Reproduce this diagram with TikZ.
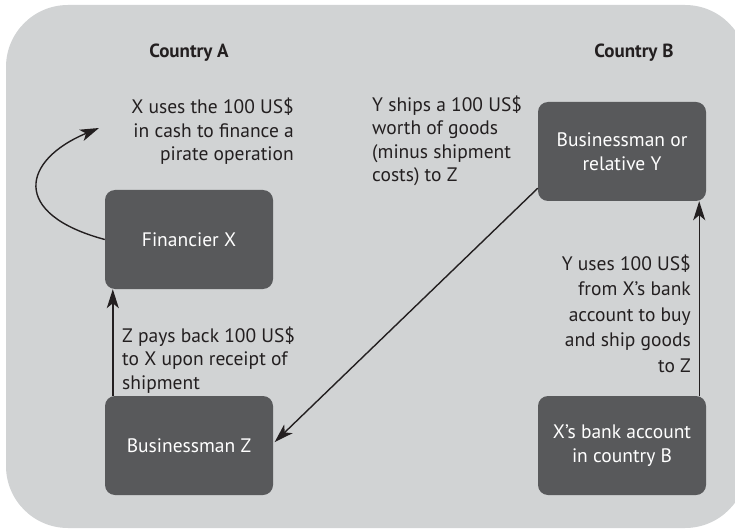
\documentclass[tikz,border=0pt]{standalone}
\usepackage{fontspec}
\setmainfont{PT Sans}
\usetikzlibrary{arrows.meta}
\definecolor{bgray}{HTML}{D1D3D4}
\definecolor{boxgray}{HTML}{58595B}
\definecolor{ink}{HTML}{231F20}
\tikzset{
  party/.style={fill=boxgray, rounded corners=10pt, minimum width=168pt, minimum height=99pt,
    inner sep=0pt, text=white, align=center, font=\fontsize{19.5}{24}\selectfont},
  lbl/.style={text=ink, inner sep=0pt, font=\fontsize{19.5}{23.5}\selectfont},
  lblwide/.style={text=ink, inner sep=0pt, font=\fontsize{19.5}{25.5}\selectfont},
  head/.style={text=ink, inner sep=0pt, font=\fontsize{19}{24}\selectfont\bfseries},
  arr/.style={draw=ink, line width=1.4pt, -{Stealth[length=19pt,width=12pt,inset=5pt]}}
}
\begin{document}
\begin{tikzpicture}[x=1pt,y=-1pt]
\useasboundingbox (0,0) rectangle (735,529);
\clip (0,0) rectangle (735,529);
\fill[bgray, rounded corners=62pt] (6,5) rectangle (747,528);

\node[head, anchor=base] (ca) at (189,58) {Country A};
\node[head, anchor=base] (cb) at (634,58) {Country B};

\node[party] (X) at (189,239.5) {Financier X};
\node[party] (Z) at (189,445.5) {Businessman Z};
\node[party] (Y) at (622,151.5) {Businessman or\\relative Y};
\node[party] (B) at (622,445.5) {X’s bank account\\in country B};

\node[lbl, anchor=base east, align=right] (t1) at (294,161) {X uses the 100 US\$\\in cash to finance a\\pirate operation};
\node[lbl, anchor=base west, align=left] (t2) at (122,389) {Z pays back 100 US\$\\to X upon receipt of\\shipment};
\node[lbl, anchor=base west, align=left] (t3) at (372,182) {Y ships a 100 US\$\\worth of goods\\(minus shipment\\costs) to Z};
\node[lblwide, anchor=base east, align=right] (t4) at (691,372) {Y uses 100 US\$\\from X’s bank\\account to buy\\and ship goods\\to Z};

\coordinate (c1) at (99,128);
\draw[arr] (X.west) .. controls (10,214) and (22,160) .. (c1);
\draw[arr] ([xshift=8pt]Z.north west) -- ([xshift=8pt]X.south west);
\draw[arr] ([xshift=-7pt]B.north east) -- ([xshift=-7pt]Y.south east);
\draw[arr, shorten >=2pt] ([yshift=13pt]Y.south west) -- ([yshift=2pt]Z.east);
\end{tikzpicture}
\end{document}
